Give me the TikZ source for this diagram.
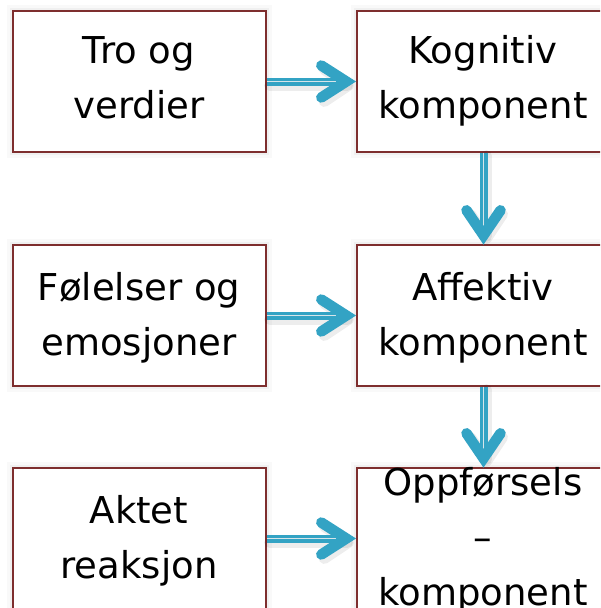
\documentclass[tikz,border=0pt]{standalone}
\usepackage{fontspec}
\setmainfont{DejaVu Sans}
\definecolor{boxred}{HTML}{7E2E2E}
\definecolor{flow}{HTML}{33A3C4}
\definecolor{gapline}{HTML}{D6E5EA}
\tikzset{
  box/.style={
    preaction={draw=black, opacity=0.025, line width=12pt},
    preaction={draw=black, opacity=0.035, line width=6pt},
    draw=boxred, fill=white, line width=1.4pt,
    minimum width=253pt, minimum height=141pt, inner sep=0pt},
  lbl/.style={font=\fontsize{37}{55}\selectfont, align=center, anchor=base, inner sep=0pt},
  shaft/.style={draw=flow, line width=3.4pt, double=gapline, double distance=1.2pt},
  head/.style={draw=flow, line width=10.5pt, line cap=round, line join=miter},
  shade/.style={draw=black, opacity=0.07, line width=11pt, line cap=round, line join=round},
}
% horizontal double-shaft arrow with chevron head, from #1 to #2
\newcommand\flowright[2]{%
  \draw[shade] ([shift={(3,4)}]#1.east) -- ([shift={(-9,4)}]#2.west);
  \draw[shade] ([shift={(-32,-12)}]#2.west) -- ([shift={(-8,4)}]#2.west) -- ([shift={(-32,20)}]#2.west);
  \draw[shaft] (#1.east) -- ([xshift=-12pt]#2.west);
  \draw[head] ([shift={(-35,-16)}]#2.west) -- ([xshift=-10pt]#2.west) -- ([shift={(-35,16)}]#2.west);
}
% vertical double-shaft arrow with chevron head, from #1 down to #2
\newcommand\flowdown[2]{%
  \draw[shade] ([shift={(3,3)}]#1.south) -- ([shift={(3,-8)}]#2.north);
  \draw[shade] ([shift={(-13,-30)}]#2.north) -- ([shift={(3,-6)}]#2.north) -- ([shift={(19,-30)}]#2.north);
  \draw[shaft] (#1.south) -- ([yshift=12pt]#2.north);
  \draw[head] ([shift={(-17,-34)}]#2.north) -- ([yshift=9pt]#2.north) -- ([shift={(17,-34)}]#2.north);
}
\begin{document}
\begin{tikzpicture}[x=1pt, y=-1pt]
  \useasboundingbox (0,0) rectangle (600,608);
  \clip (0,0) rectangle (600,608);
  \fill[white] (0,0) rectangle (600,608);

  % boxes
  \node[box] (tro) at (139.5,81.5) {};
  \node[box] (kog) at (483.5,81.5) {};
  \node[box] (fol) at (139.5,315.5) {};
  \node[box] (aff) at (483.5,315.5) {};
  \node[box] (akt) at (139.5,538.5) {};
  \node[box] (opp) at (483.5,538.5) {};

  % connectors
  \flowright{tro}{kog}
  \flowright{fol}{aff}
  \flowright{akt}{opp}
  \flowdown{kog}{aff}
  \flowdown{aff}{opp}

  % labels (anchored at the baseline of the last line)
  \node[lbl] (ltro) at (139,118) {Tro og\\verdier};
  \node[lbl] (lkog) at (483,118) {Kognitiv\\komponent};
  \node[lbl] (lfol) at (139,355) {Følelser og\\emosjoner};
  \node[lbl] (laff) at (483,355) {Affektiv\\komponent};
  \node[lbl] (lakt) at (139,578) {Aktet\\reaksjon};
  \node[lbl] (lopp) at (483,605) {Oppførsels\\–\\komponent};
\end{tikzpicture}
\end{document}
